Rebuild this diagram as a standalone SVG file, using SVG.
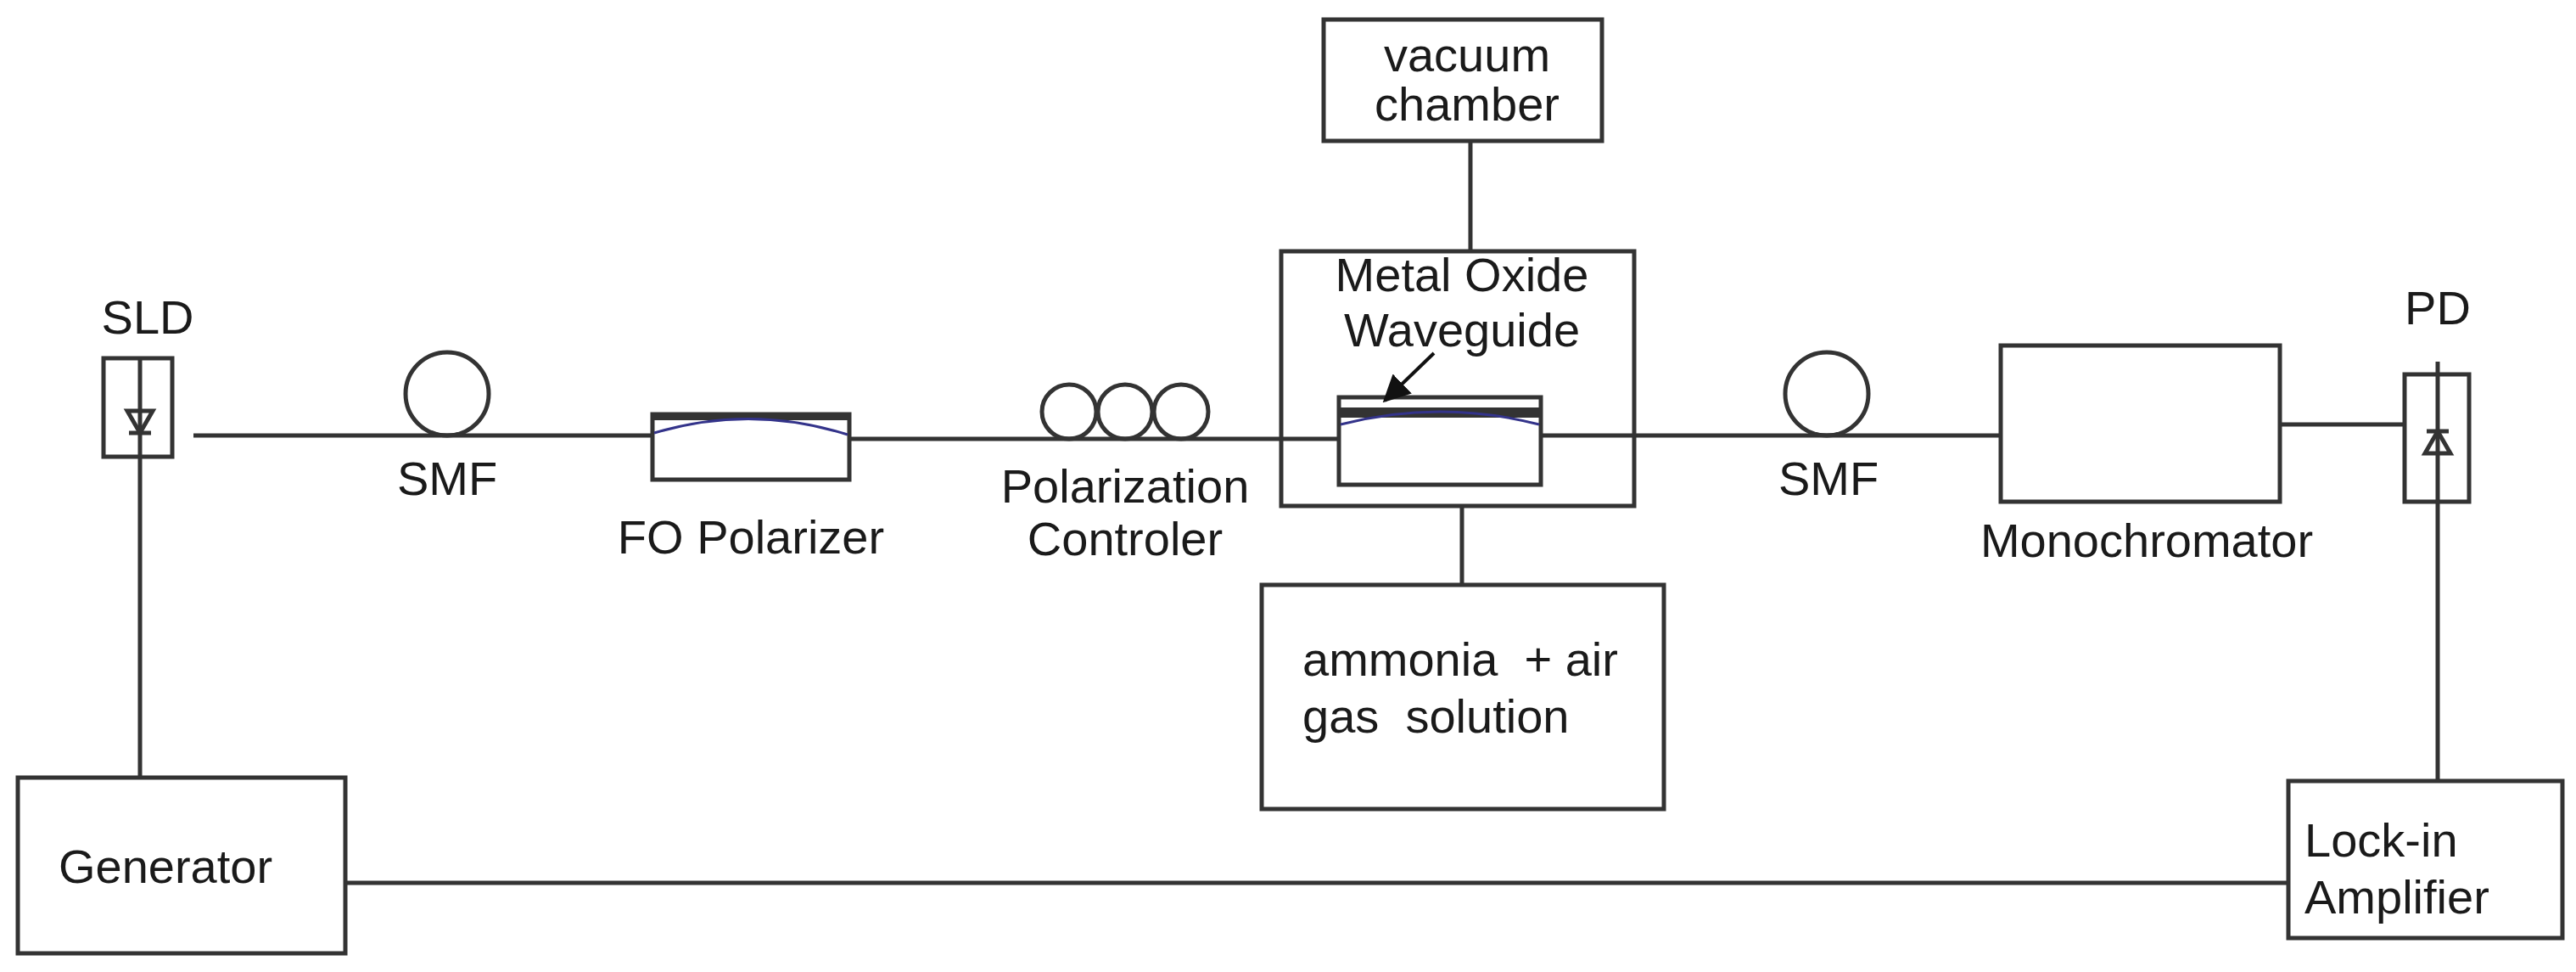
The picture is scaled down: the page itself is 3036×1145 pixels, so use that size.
<svg xmlns="http://www.w3.org/2000/svg" width="3036" height="1145" viewBox="0 0 3036 1145">
<defs>
<style>
.b{fill:#fff;stroke:#333;stroke-width:5}
.l{fill:none;stroke:#333;stroke-width:5}
.t{font-family:"Liberation Sans",Arial,sans-serif;font-size:56px;fill:#1a1a1a}
.c{text-anchor:middle}
.blue{fill:none;stroke:#33338a;stroke-width:3}
</style>
<marker id="ah" viewBox="0 0 10 10" refX="9" refY="5" markerWidth="8" markerHeight="8" orient="auto"><path d="M0,0L10,5L0,10z" fill="#111"/></marker>
</defs>
<rect width="3036" height="1145" fill="#fff"/>
<g id="connectors">
<line class="l" x1="228" y1="513" x2="769" y2="513"/>
<line class="l" x1="1001" y1="517" x2="1578" y2="517"/>
<line class="l" x1="1816" y1="513" x2="2358" y2="513"/>
<line class="l" x1="2687" y1="500" x2="2834" y2="500"/>
<line class="l" x1="165" y1="538" x2="165" y2="916"/>
<line class="l" x1="2873" y1="591" x2="2873" y2="920"/>
<line class="l" x1="407" y1="1040" x2="2697" y2="1040"/>
<line class="l" x1="1733" y1="166" x2="1733" y2="296"/>
<line class="l" x1="1723" y1="596" x2="1723" y2="689"/>
</g>
<g id="sld">
<text class="t c" x="174" y="393">SLD</text>
<rect class="b" x="122" y="422" width="81" height="116"/>
<line class="l" x1="165" y1="424" x2="165" y2="536" stroke-width="3"/>
<path d="M150,484L180,484L165,510Z" class="l" stroke-width="4"/>
<line class="l" x1="152" y1="510" x2="178" y2="510" stroke-width="4"/>
</g>
<g id="smf1">
<circle class="l" cx="527" cy="464" r="49"/>
<text class="t c" x="527" y="583">SMF</text>
</g>
<g id="polarizer">
<rect class="b" x="769" y="488" width="232" height="77"/>
<rect x="769" y="486" width="232" height="9" fill="#333"/>
<path class="blue" d="M771,510Q885,476 999,512"/>
<text class="t c" x="885" y="652">FO Polarizer</text>
</g>
<g id="polcontroller">
<circle class="l" cx="1260" cy="485" r="32"/>
<circle class="l" cx="1326" cy="485" r="32"/>
<circle class="l" cx="1392" cy="485" r="32"/>
<text class="t c" x="1326" y="592">Polarization</text>
<text class="t c" x="1326" y="654">Controler</text>
</g>
<g id="vacuum">
<rect class="b" x="1560" y="23" width="328" height="143"/>
<text class="t c" x="1729" y="84">vacuum</text>
<text class="t c" x="1729" y="142">chamber</text>
</g>
<g id="chamber">
<rect class="l" x="1510" y="296" width="416" height="300"/>
<text class="t c" x="1723" y="343">Metal Oxide</text>
<text class="t c" x="1723" y="408">Waveguide</text>
<rect class="b" x="1578" y="468" width="238" height="103"/>
<rect x="1578" y="480" width="238" height="12" fill="#333"/>
<path class="blue" d="M1580,500Q1697,470 1814,500"/>
<line x1="1690" y1="416" x2="1632" y2="472" stroke="#111" stroke-width="4" marker-end="url(#ah)"/>
</g>
<g id="ammonia">
<rect class="b" x="1487" y="689" width="474" height="264"/>
<text class="t" x="1535" y="796" xml:space="preserve">ammonia  + air</text>
<text class="t" x="1535" y="863" xml:space="preserve">gas  solution</text>
</g>
<g id="smf2">
<circle class="l" cx="2153" cy="464" r="49"/>
<text class="t c" x="2155" y="583">SMF</text>
</g>
<g id="mono">
<rect class="b" x="2358" y="407" width="329" height="184"/>
<text class="t c" x="2530" y="656">Monochromator</text>
</g>
<g id="pd">
<text class="t c" x="2873" y="382">PD</text>
<rect class="b" x="2834" y="441" width="76" height="150"/>
<line class="l" x1="2873" y1="426" x2="2873" y2="591" stroke-width="3"/>
<path d="M2858,534L2888,534L2873,508Z" class="l" stroke-width="4"/>
<line class="l" x1="2860" y1="508" x2="2886" y2="508" stroke-width="4"/>
</g>
<g id="lockin">
<rect class="b" x="2697" y="920" width="323" height="185"/>
<text class="t" x="2716" y="1009">Lock-in</text>
<text class="t" x="2716" y="1076">Amplifier</text>
</g>
<g id="generator">
<rect class="b" x="21" y="916" width="386" height="207"/>
<text class="t c" x="195" y="1040">Generator</text>
</g>
</svg>
